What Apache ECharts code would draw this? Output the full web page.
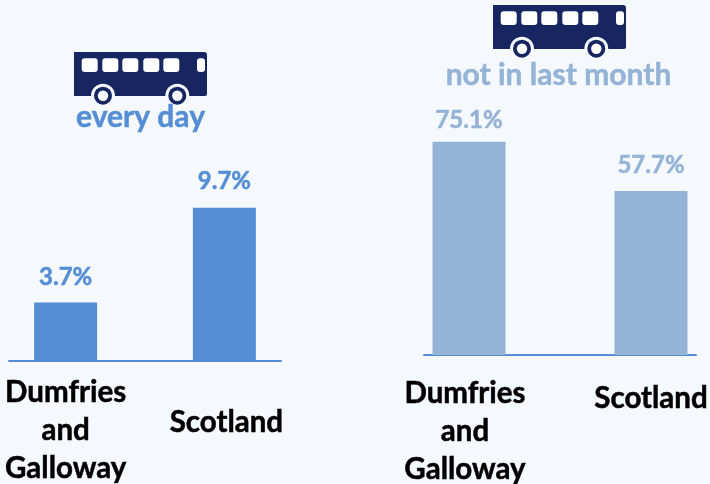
<!DOCTYPE html>
<html><head><meta charset="utf-8">
<style>html,body{margin:0;padding:0;background:#f5f9fd}#c{width:710px;height:484px}</style>
<script src="https://cdn.jsdelivr.net/npm/echarts@6/dist/echarts.min.js"></script>
</head><body><div id="c"></div>
<script>
const categories = ['Dumfries\nand\nGalloway', 'Scotland'];
const everyDay = [3.7, 9.7];
const notInLastMonth = [75.1, 57.7];
const titles = ['every day', 'not in last month'];

const FONT = 'Lato';
const INK = '#000000', BLUE = '#558ed5', PALE = '#95b3d7', NAVY = '#172660', BG = '#f5f9fd';

function bus(dx, dy) {
  const win = [[81.7,16],[102.3,16],[122.3,16],[143.3,16],[163.3,16],[197,8]];
  const kids = [{type:'rect',shape:{x:74,y:52,width:133,height:44,r:[0,3,2,0]},style:{fill:NAVY}}];
  win.forEach(w=>kids.push({type:'rect',shape:{x:w[0],y:58.3,width:w[1],height:13.7,r:3},style:{fill:'#fff'}}));
  [103,177.3].forEach(cx=>{
    kids.push({type:'circle',shape:{cx,cy:95.7,r:12},style:{fill:BG}});
    kids.push({type:'circle',shape:{cx,cy:95.7,r:9},style:{fill:NAVY}});
    kids.push({type:'circle',shape:{cx,cy:95.7,r:5.2},style:{fill:'#fff'}});
  });
  return {type:'group',x:dx,y:dy,children:kids};
}
function cat(grid, paddings, margin) {
  return {
    type:'category', gridIndex:grid, data:categories.map((c,i)=>({value:c,textStyle:{padding:paddings[i]}})),
    axisLine:{show:false}, axisTick:{show:false},
    axisLabel:{interval:0,margin,verticalAlign:'top',fontFamily:FONT,fontWeight:'bold',fontSize:29.5,lineHeight:38,color:INK,textBorderColor:INK,textBorderWidth:0.5}
  };
}
function base(grid,color){
  return {type:'category',gridIndex:grid,data:[''],axisLine:{lineStyle:{color,width:2}},axisTick:{show:false},axisLabel:{show:false}};
}
function yA(grid,max){return {type:'value',gridIndex:grid,min:0,max,show:false,splitLine:{show:false}};}
function bars(name,grid,data,color,w,fs,gaps){
  return {type:'bar',name,xAxisIndex:grid,yAxisIndex:grid,barWidth:w,itemStyle:{color},silent:true,
    data:data.map((v,i)=>({value:v,label:{distance:gaps[i]}})),
    label:{show:true,position:'top',formatter:p=>p.value.toFixed(1)+'%',fontFamily:FONT,fontWeight:'bold',fontSize:fs,color,textBorderColor:color,textBorderWidth:0.5}};
}
const none = {outerBoundsMode:'none',containLabel:false};
const chart = echarts.init(document.getElementById('c'),null,{renderer:'canvas'});
chart.setOption({
  backgroundColor:BG, animation:false,
  title:[
    {text:titles[0],left:135.5,top:97,textAlign:'center',textStyle:{fontFamily:FONT,fontWeight:'bold',fontSize:30,color:BLUE,textBorderColor:BLUE,textBorderWidth:0.5}},
    {text:titles[1],left:553.5,top:55,textAlign:'center',textStyle:{fontFamily:FONT,fontWeight:'bold',fontSize:30,color:PALE,textBorderColor:PALE,textBorderWidth:0.5}}
  ],
  grid:[
    {...none,left:-13.75,width:317.5,top:61,height:300},
    {...none,left:378,width:364,top:55,height:300},
    {...none,left:9,width:272,top:61,height:300},
    {...none,left:424,width:272,top:55,height:300}
  ],
  xAxis:[cat(0,[[0,0,0,0],[30,0,0,4]],12),cat(1,[[0,8,0,0],[5,0,0,0]],19.5),base(2,BLUE),base(3,BLUE)],
  yAxis:[yA(0,19),yA(1,105.6),yA(2,1),yA(3,1)],
  series:[
    bars('every day',0,everyDay,BLUE,63,24,[13,15]),
    bars('not in last month',1,notInLastMonth,PALE,73,24,[9,14])
  ],
  graphic:[bus(0,0),bus(419,-47)]
});
</script></body></html>
